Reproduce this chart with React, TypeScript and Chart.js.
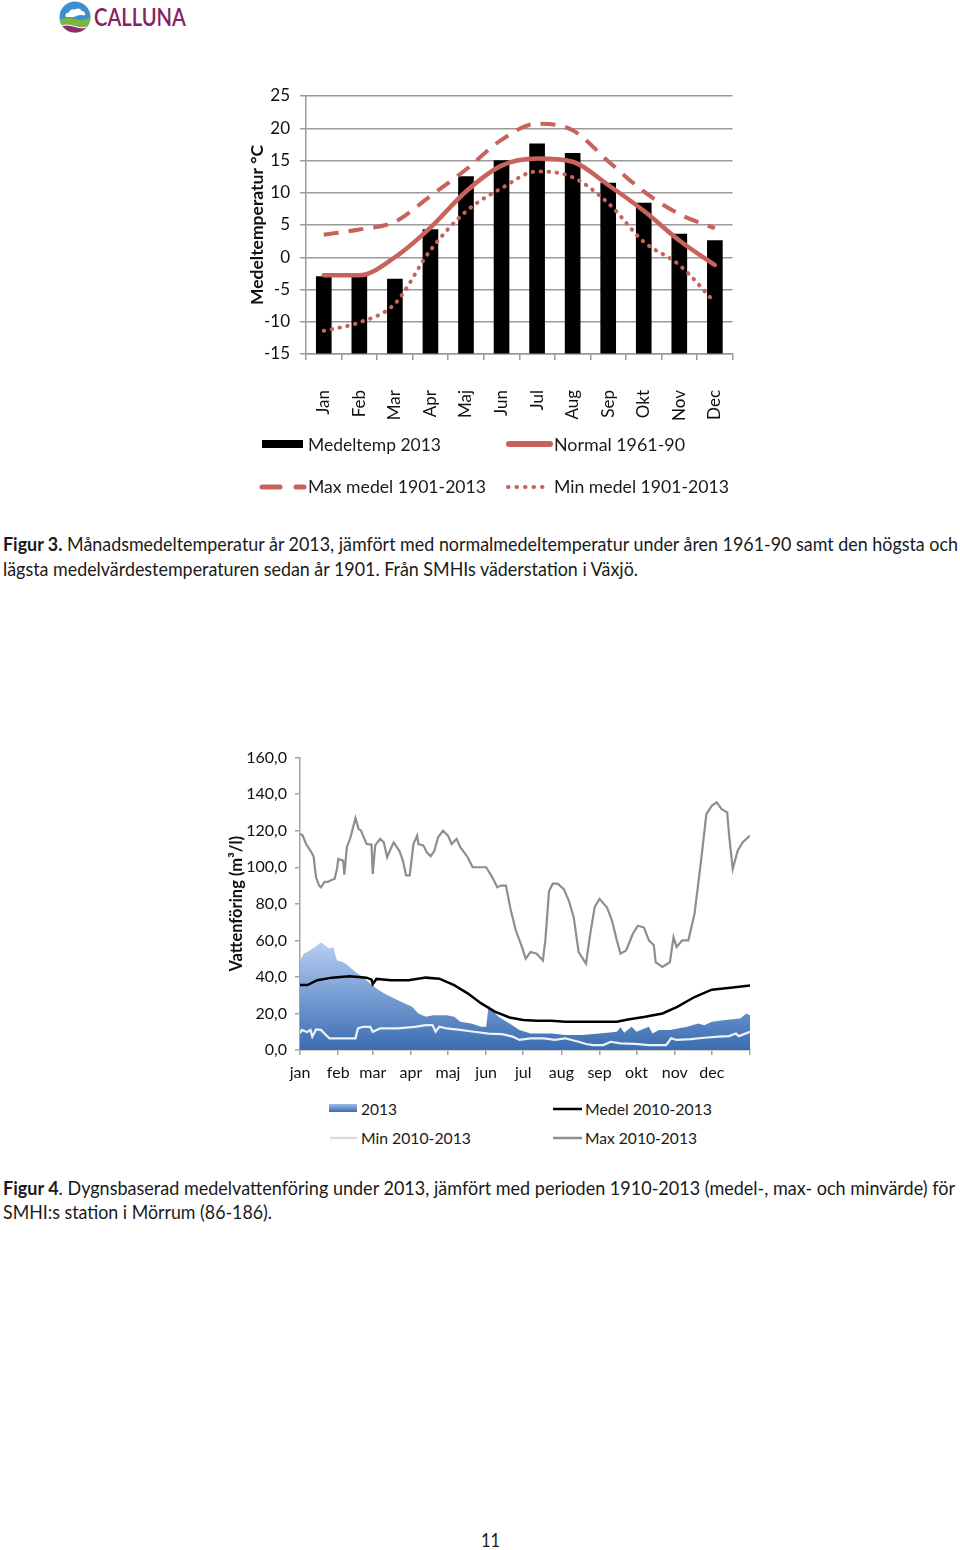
import React, { useEffect, useLayoutEffect, useRef } from 'react';
import { Chart, registerables } from 'chart.js';

Chart.register(...registerables);

// ---------- Figure 3 data ----------
const months = ['Jan', 'Feb', 'Mar', 'Apr', 'Maj', 'Jun', 'Jul', 'Aug', 'Sep', 'Okt', 'Nov', 'Dec'];
const temp2013 = [-3.0, -2.9, -3.4, 4.3, 12.5, 15.0, 17.6, 16.1, 11.5, 8.4, 3.6, 2.6];
const normal6190 = [-2.8, -2.8, 0.0, 4.6, 10.2, 14.2, 15.3, 14.8, 11.2, 7.2, 2.6, -1.2];
const maxMedel = [3.5, 4.3, 5.5, 9.5, 13.6, 18.2, 20.7, 19.7, 14.9, 10.2, 6.7, 4.5];
const minMedel = [-11.4, -10.1, -7.2, 1.1, 7.1, 10.7, 13.3, 12.4, 8.4, 2.4, -1.2, -7.0];
const tempTicks = [-15, -10, -5, 0, 5, 10, 15, 20, 25];

// ---------- Figure 4 data ----------
const monthLabels = ['jan', 'feb', 'mar', 'apr', 'maj', 'jun', 'jul', 'aug', 'sep', 'okt', 'nov', 'dec', ''];
const monthStarts = [0, 31, 59, 90, 120, 151, 181, 212, 243, 273, 304, 334, 365];
const flowTicks = [0, 20, 40, 60, 80, 100, 120, 140, 160];

const flow2013Days = [0, 3, 8, 14, 17, 20, 24, 27, 30, 35, 40, 45, 51, 57, 62, 68, 74, 79, 85, 91, 96, 102, 108, 119, 125, 130, 139, 147, 151, 153, 156, 161, 170, 178, 187, 198, 204, 215, 229, 243, 257, 260, 263, 269, 273, 283, 286, 291, 300, 314, 323, 328, 334, 345, 357, 362, 365];
const flow2013Vals = [49, 52.7, 54.5, 57.3, 59, 57.3, 55.5, 56.4, 49, 48.2, 45.5, 42.7, 40, 36.4, 33.6, 31, 29, 27.3, 25.5, 23.6, 20, 18.2, 19, 19, 18.2, 15.5, 14.5, 12.7, 12.7, 24.5, 21.8, 18.2, 14.5, 11, 9, 9, 9, 8.2, 8.2, 9, 10, 12.4, 9.5, 12.7, 10, 12.7, 9, 11, 11, 12.7, 14.5, 13.6, 15.5, 16.4, 17.3, 20, 19];

const medelDays = [0, 6, 14, 26, 40, 54, 58, 59, 62, 74, 88, 102, 113, 125, 136, 147, 158, 170, 181, 192, 204, 215, 229, 257, 266, 280, 294, 306, 320, 334, 351, 365];
const medelVals = [35.5, 35.5, 38.2, 39.6, 40.4, 39.6, 38.5, 36.0, 38.9, 38.2, 38.2, 39.6, 39, 35.5, 31, 25.5, 21, 17.8, 16.4, 16, 16, 15.5, 15.5, 15.5, 16.7, 18.2, 20, 23.6, 29, 33, 34.2, 35.3];

const minDays = [0, 1.4, 5.7, 8.5, 10, 13, 17, 21, 24, 28, 45, 47, 51, 57, 59, 65, 79, 93, 102, 107.5, 110, 113, 119, 130, 141, 153, 164, 172.6, 178, 187, 198, 206.5, 215, 226, 232, 237.6, 246, 252, 260, 271.6, 283, 297, 301, 305.5, 317, 328, 339.5, 348, 353.6, 356, 365];
const minVals = [9, 11, 9.8, 11, 7.3, 11.3, 11, 8.2, 6.4, 6.4, 6.4, 11.8, 12.7, 12.7, 10, 11.8, 11.8, 12.7, 13.6, 13.6, 10, 12.7, 11.8, 11, 10, 9, 8.7, 7.3, 5.5, 6.4, 6.4, 5.5, 6.4, 4.5, 3.3, 2.7, 2.7, 4.5, 3.6, 3.3, 2.7, 2.7, 6.4, 5.5, 6, 6.7, 7.3, 7.6, 9, 7.6, 10];

const maxDays = [0, 2, 5, 8.5, 11, 13, 15.5, 17, 20, 22.6, 25.5, 28, 30, 31, 35, 36, 38, 41, 45, 47.5, 49.5, 54, 58, 59, 61, 65, 68, 70.7, 73.5, 76, 80.6, 83.5, 86, 89, 92, 95, 96, 100, 103, 106, 109, 112, 116, 120, 123, 127, 130, 136, 140, 151, 156, 160, 162.7, 167, 171, 175, 180, 183, 187, 192, 197, 199, 202, 205, 209, 214, 218, 222, 226, 232, 235, 239, 243, 249, 253, 257, 260, 264.5, 270, 274, 279, 283, 287, 288.5, 294, 300, 303, 305.5, 310, 315, 320, 325, 329.6, 334, 338, 342, 346.5, 348, 351, 355, 359, 365];
const maxVals = [118.2, 117.6, 112.7, 109, 106, 94.5, 90, 89, 92, 92, 93, 93.6, 99, 104.5, 103.6, 96, 111, 116.4, 127, 121, 120, 112.7, 112.4, 96.4, 112, 115.5, 113.6, 105.5, 110, 113.6, 109, 103.6, 95.5, 95.5, 112.7, 117.3, 112.7, 112, 108, 106, 109, 116.4, 120, 117.3, 112.7, 115.5, 111, 105.5, 100, 100, 94.5, 89, 90, 90, 76.4, 65.5, 56.4, 50, 53.6, 52.7, 49, 60, 87, 91, 91, 88, 81.8, 72.7, 53.6, 47.3, 61.8, 78.2, 82.7, 78, 71, 60, 52.7, 54.5, 63.6, 68, 67, 60, 57.3, 48, 45.5, 48, 61.8, 56.4, 60, 60, 74.5, 101.8, 129, 133.6, 135.5, 131.8, 130, 118, 99, 109, 113.6, 117.3];

// ---------- styles ----------
const FONT = 'Lato, "Open Sans", sans-serif';
const RED = '#c8625c';
const GRID = '#9a9a9a';
const AXIS2 = '#a3a3a3';

const toPoints = (xs: number[], ys: number[]) => xs.map((x, i) => ({ x, y: ys[i] }));

function FitText(props: { left: number; top: number; width: number; size: number; color?: string; weight?: number | string; family?: string; children: React.ReactNode }) {
  const ref = useRef<HTMLDivElement>(null);
  useLayoutEffect(() => {
    const el = ref.current;
    if (!el) return;
    el.style.transform = 'none';
    const w = el.getBoundingClientRect().width;
    if (w > 0) el.style.transform = `scaleX(${props.width / w})`;
  });
  return (
    <div
      ref={ref}
      style={{
        position: 'absolute',
        left: props.left,
        top: props.top,
        whiteSpace: 'nowrap',
        transformOrigin: '0 0',
        fontFamily: props.family || FONT,
        fontSize: props.size,
        lineHeight: 1,
        fontWeight: props.weight || 400,
        color: props.color || '#1a1a1a',
      }}
    >
      {props.children}
    </div>
  );
}

function TempChart() {
  const ref = useRef<HTMLCanvasElement>(null);
  useEffect(() => {
    const chart = new Chart(ref.current as HTMLCanvasElement, {
      type: 'bar',
      data: {
        labels: months,
        datasets: [
          {
            type: 'line', label: 'Normal 1961-90', data: normal6190, borderColor: RED, borderWidth: 4.5,
            pointRadius: 0, cubicInterpolationMode: 'monotone', order: 1, borderCapStyle: 'round', borderJoinStyle: 'round',
          } as any,
          {
            type: 'line', label: 'Max medel 1901-2013', data: maxMedel, borderColor: RED, borderWidth: 4,
            borderDash: [15, 10], pointRadius: 0, cubicInterpolationMode: 'monotone', order: 2,
          } as any,
          {
            type: 'line', label: 'Min medel 1901-2013', data: minMedel, borderColor: RED, borderWidth: 4,
            borderDash: [0.5, 7.5], borderCapStyle: 'round', pointRadius: 0, cubicInterpolationMode: 'monotone', order: 3,
          } as any,
          {
            type: 'bar', label: 'Medeltemp 2013', data: temp2013, backgroundColor: '#000', barThickness: 15, base: -15, order: 10,
          } as any,
        ],
      },
      options: {
        animation: false,
        responsive: false,
        layout: { padding: { top: 26, right: 18, left: 0, bottom: 0 } },
        plugins: { legend: { display: false }, tooltip: { enabled: false } },
        scales: {
          x: {
            grid: { offset: true, drawOnChartArea: false, tickLength: 6, color: GRID, lineWidth: 1.5 },
            border: { color: GRID, width: 1.5 },
            ticks: { minRotation: 90, maxRotation: 90, padding: 30, color: '#111', font: { family: FONT, size: 17 } },
            afterFit: (s: any) => { s.height = 86; },
          },
          y: {
            min: -15, max: 25,
            afterBuildTicks: (s: any) => { s.ticks = tempTicks.map((v) => ({ value: v })); },
            ticks: { padding: 10, color: '#111', font: { family: FONT, size: 17 } },
            grid: { color: GRID, lineWidth: 1.5, tickLength: 6 },
            border: { color: GRID, width: 1.5 },
            title: {
              display: true, text: 'Medeltemperatur °C', color: '#111',
              font: { family: FONT, size: 17.5, weight: 'bold' }, padding: { top: 16.5, bottom: 0 },
            },
            afterFit: (s: any) => { s.width = 76; },
          },
        },
      } as any,
    });
    return () => chart.destroy();
  }, []);
  return <canvas ref={ref} width={536} height={370} style={{ position: 'absolute', left: 230, top: 70 }} />;
}

function FlowChart() {
  const ref = useRef<HTMLCanvasElement>(null);
  useEffect(() => {
    const areaFill = (ctx: any) => {
      const chart = ctx.chart;
      const { chartArea, scales } = chart;
      if (!chartArea) return '#6f97cf';
      const g = chart.ctx.createLinearGradient(0, scales.y.getPixelForValue(60), 0, scales.y.getPixelForValue(0));
      g.addColorStop(0, '#bad0f0');
      g.addColorStop(0.35, '#8badde');
      g.addColorStop(1, '#3a6cb0');
      return g;
    };
    const chart = new Chart(ref.current as HTMLCanvasElement, {
      type: 'line',
      data: {
        datasets: [
          {
            label: '2013', data: toPoints(flow2013Days, flow2013Vals), fill: 'origin', backgroundColor: areaFill,
            borderWidth: 0, pointRadius: 0, tension: 0, order: 4,
          },
          {
            label: 'Medel 2010-2013', data: toPoints(medelDays, medelVals), borderColor: '#000', borderWidth: 2.5,
            pointRadius: 0, tension: 0, order: 3, fill: false,
          },
          {
            label: 'Min 2010-2013', data: toPoints(minDays, minVals), borderColor: '#edf1f8', borderWidth: 2.2,
            pointRadius: 0, tension: 0, order: 2, fill: false,
          },
          {
            label: 'Max 2010-2013', data: toPoints(maxDays, maxVals), borderColor: '#8e8e8e', borderWidth: 2.2,
            pointRadius: 0, tension: 0, order: 1, fill: false,
          },
        ],
      },
      options: {
        animation: false,
        responsive: false,
        layout: { padding: { top: 17, right: 10, left: 0, bottom: 0 } },
        plugins: { legend: { display: false }, tooltip: { enabled: false } },
        scales: {
          x: {
            type: 'linear', min: 0, max: 365,
            afterBuildTicks: (s: any) => { s.ticks = monthStarts.map((v) => ({ value: v })); },
            ticks: {
              autoSkip: false, maxRotation: 0, padding: 8, color: '#111', font: { family: FONT, size: 16 },
              callback: (_v: any, i: number) => monthLabels[i],
            },
            grid: { drawOnChartArea: false, tickLength: 5, color: AXIS2, lineWidth: 1.5 },
            border: { color: AXIS2, width: 1.5 },
            afterFit: (s: any) => { s.height = 40; },
          },
          y: {
            min: 0, max: 160,
            afterBuildTicks: (s: any) => { s.ticks = flowTicks.map((v) => ({ value: v })); },
            ticks: {
              padding: 8, color: '#111', font: { family: FONT, size: 16 },
              callback: (v: any) => Number(v).toFixed(1).replace('.', ','),
            },
            grid: { drawOnChartArea: false, tickLength: 5, color: AXIS2, lineWidth: 1.5 },
            border: { color: AXIS2, width: 1.5 },
            title: {
              display: true, text: 'Vattenföring (m³/l)', color: '#111',
              font: { family: FONT, size: 16.5, weight: 'bold' }, padding: { top: 27, bottom: 0 },
            },
            afterFit: (s: any) => { s.width = 100; },
          },
        },
      } as any,
    });
    return () => chart.destroy();
  }, []);
  return <canvas ref={ref} width={560} height={350} style={{ position: 'absolute', left: 200, top: 740 }} />;
}

function Logo() {
  return (
    <>
      <svg width={32} height={32} style={{ position: 'absolute', left: 59, top: 1 }}>
        <defs>
          <clipPath id="logoClip">
            <circle cx={16} cy={16} r={15.5} />
          </clipPath>
        </defs>
        <g clipPath="url(#logoClip)">
          <rect x={0} y={0} width={32} height={32} fill="#3f8fcf" />
          <path d="M0 19 Q8 15 16 18 T32 16 V32 H0Z" fill="#7ab544" />
          <path d="M0 25 Q8 22 16 25 T32 24 V32 H0Z" fill="#fff" />
          <path d="M0 26 Q8 23 16 26 T32 25 V32 H0Z" fill="#8e2b6b" />
          <path d="M7 16 Q5 12 10 11.5 Q11 7.5 16 8.5 Q20 6 23 10 Q27 10.5 26 14.5 Q20 13 15 16 Z" fill="#fff" />
        </g>
      </svg>
      <FitText left={94} top={4} width={92} size={25} weight={600} color="#86215e">CALLUNA</FitText>
    </>
  );
}

function Legend1() {
  return (
    <>
      <svg width={500} height={70} style={{ position: 'absolute', left: 250, top: 430 }}>
        <rect x={12} y={10} width={41} height={8} fill="#000" />
        <line x1={259} y1={14} x2={300} y2={14} stroke={RED} strokeWidth={6} strokeLinecap="round" />
        <line x1={12} y1={57} x2={30} y2={57} stroke={RED} strokeWidth={5} strokeLinecap="round" />
        <line x1={46} y1={57} x2={54} y2={57} stroke={RED} strokeWidth={5} strokeLinecap="round" />
        <line x1={258} y1={57} x2={298} y2={57} stroke={RED} strokeWidth={4} strokeLinecap="round" strokeDasharray="0.5 8" />
      </svg>
      <FitText left={308} top={436} width={133} size={17}>Medeltemp 2013</FitText>
      <FitText left={554} top={436} width={131} size={17}>Normal 1961-90</FitText>
      <FitText left={308} top={478} width={178} size={17}>Max medel 1901-2013</FitText>
      <FitText left={554} top={478} width={175} size={17}>Min medel 1901-2013</FitText>
    </>
  );
}

function Legend2() {
  return (
    <>
      <svg width={300} height={50} style={{ position: 'absolute', left: 320, top: 1098 }}>
        <defs>
          <linearGradient id="lg2013" x1="0" y1="0" x2="0" y2="1">
            <stop offset="0" stopColor="#9dbbe6" />
            <stop offset="1" stopColor="#3a6cb0" />
          </linearGradient>
        </defs>
        <rect x={9} y={6} width={28} height={8} fill="url(#lg2013)" />
        <line x1={233} y1={11} x2={262} y2={11} stroke="#000" strokeWidth={2.5} />
        <line x1={10} y1={40} x2={37} y2={40} stroke="#dcdcdc" strokeWidth={2.5} />
        <line x1={233} y1={40} x2={262} y2={40} stroke="#8e8e8e" strokeWidth={2.5} />
      </svg>
      <FitText left={361} top={1101} width={36} size={16}>2013</FitText>
      <FitText left={585} top={1101} width={127} size={16}>Medel 2010-2013</FitText>
      <FitText left={361} top={1130} width={110} size={16}>Min 2010-2013</FitText>
      <FitText left={585} top={1130} width={112} size={16}>Max 2010-2013</FitText>
    </>
  );
}

export default function App() {
  return (
    <div style={{ position: 'absolute', left: 0, top: 0, width: 960, height: 1550, background: '#fff', overflow: 'hidden' }}>
      <Logo />
      <TempChart />
      <Legend1 />
      <FitText left={3} top={534} width={955} size={19}>
        <b>Figur 3.</b> Månadsmedeltemperatur år 2013, jämfört med normalmedeltemperatur under åren 1961-90 samt den högsta och
      </FitText>
      <FitText left={3} top={559} width={635} size={19}>
        lägsta medelvärdestemperaturen sedan år 1901. Från SMHIs väderstation i Växjö.
      </FitText>
      <FlowChart />
      <Legend2 />
      <FitText left={3} top={1178} width={952} size={19}>
        <b>Figur 4</b>. Dygnsbaserad medelvattenföring under 2013, jämfört med perioden 1910-2013 (medel-, max- och minvärde) för
      </FitText>
      <FitText left={3} top={1202} width={269} size={19}>
        SMHI:s station i Mörrum (86-186).
      </FitText>
      <FitText left={481} top={1529} width={19} size={20}>11</FitText>
    </div>
  );
}
